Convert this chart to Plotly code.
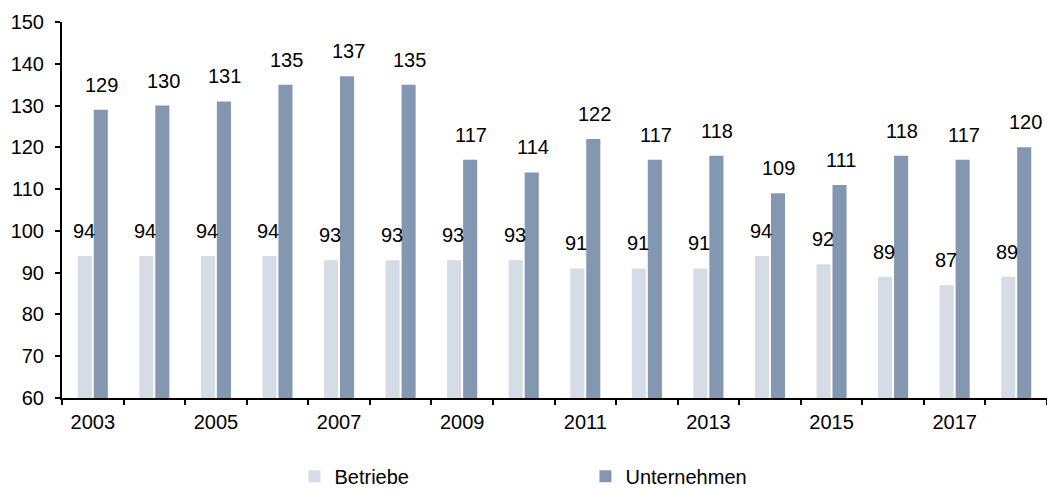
import plotly.graph_objects as go

years = list(range(2003, 2019))
betriebe = [94, 94, 94, 94, 93, 93, 93, 93, 91, 91, 91, 94, 92, 89, 87, 89]
unternehmen = [129, 130, 131, 135, 137, 135, 117, 114, 122, 117, 118, 109, 111, 118, 117, 120]
y_ticks = list(range(60, 151, 10))
x_tickvals = years[::2]

c_b = "#D6DCE5"
c_u = "#8497B0"
font_family = "Liberation Sans, Arial, sans-serif"

fig = go.Figure()
fig.add_trace(go.Bar(x=years, y=betriebe, name="Betriebe", marker_color=c_b,
                     marker_line_width=0))
fig.add_trace(go.Bar(x=years, y=unternehmen, name="Unternehmen", marker_color=c_u,
                     marker_line_width=0))

for yr, b, u in zip(years, betriebe, unternehmen):
    fig.add_annotation(x=yr, y=b, text=str(b), showarrow=False, xshift=-9,
                       yanchor="bottom", yshift=12, font=dict(size=20, color="black"))
    fig.add_annotation(x=yr, y=u, text=str(u), showarrow=False, xshift=9,
                       yanchor="bottom", yshift=12, font=dict(size=20, color="black"))

fig.update_layout(
    width=1047, height=490,
    margin=dict(l=62, r=0, t=22, b=92, autoexpand=False),
    paper_bgcolor="white", plot_bgcolor="white",
    font=dict(family=font_family, size=20, color="black"),
    barmode="group", bargap=0.48, bargroupgap=0.12,
    showlegend=True,
    legend=dict(orientation="h", x=0.236, xanchor="left", y=-0.208, yanchor="middle",
                entrywidth=246, font=dict(size=20), itemwidth=30,
                tracegroupgap=0),
)
fig.update_xaxes(
    range=[years[0] - 0.5, years[-1] + 0.5],
    tickvals=x_tickvals, ticktext=[str(v) for v in x_tickvals],
    ticks="", showline=True, linecolor="black", linewidth=2,
    showgrid=False, zeroline=False, ticklabelstandoff=5,
    minor=dict(tick0=years[0] - 0.5, dtick=1, ticks="outside", ticklen=5,
               tickcolor="black", tickwidth=2, showgrid=False),
)
fig.update_yaxes(
    range=[60, 150], tickvals=y_ticks, ticks="outside", ticklen=5,
    tickcolor="black", tickwidth=2, showline=True, linecolor="black", linewidth=2,
    showgrid=False, zeroline=False, ticklabelstandoff=7,
)

fig.write_html("out.html", config={"displayModeBar": False},
               post_script="document.body.style.margin='0';document.body.style.overflow='hidden';")
